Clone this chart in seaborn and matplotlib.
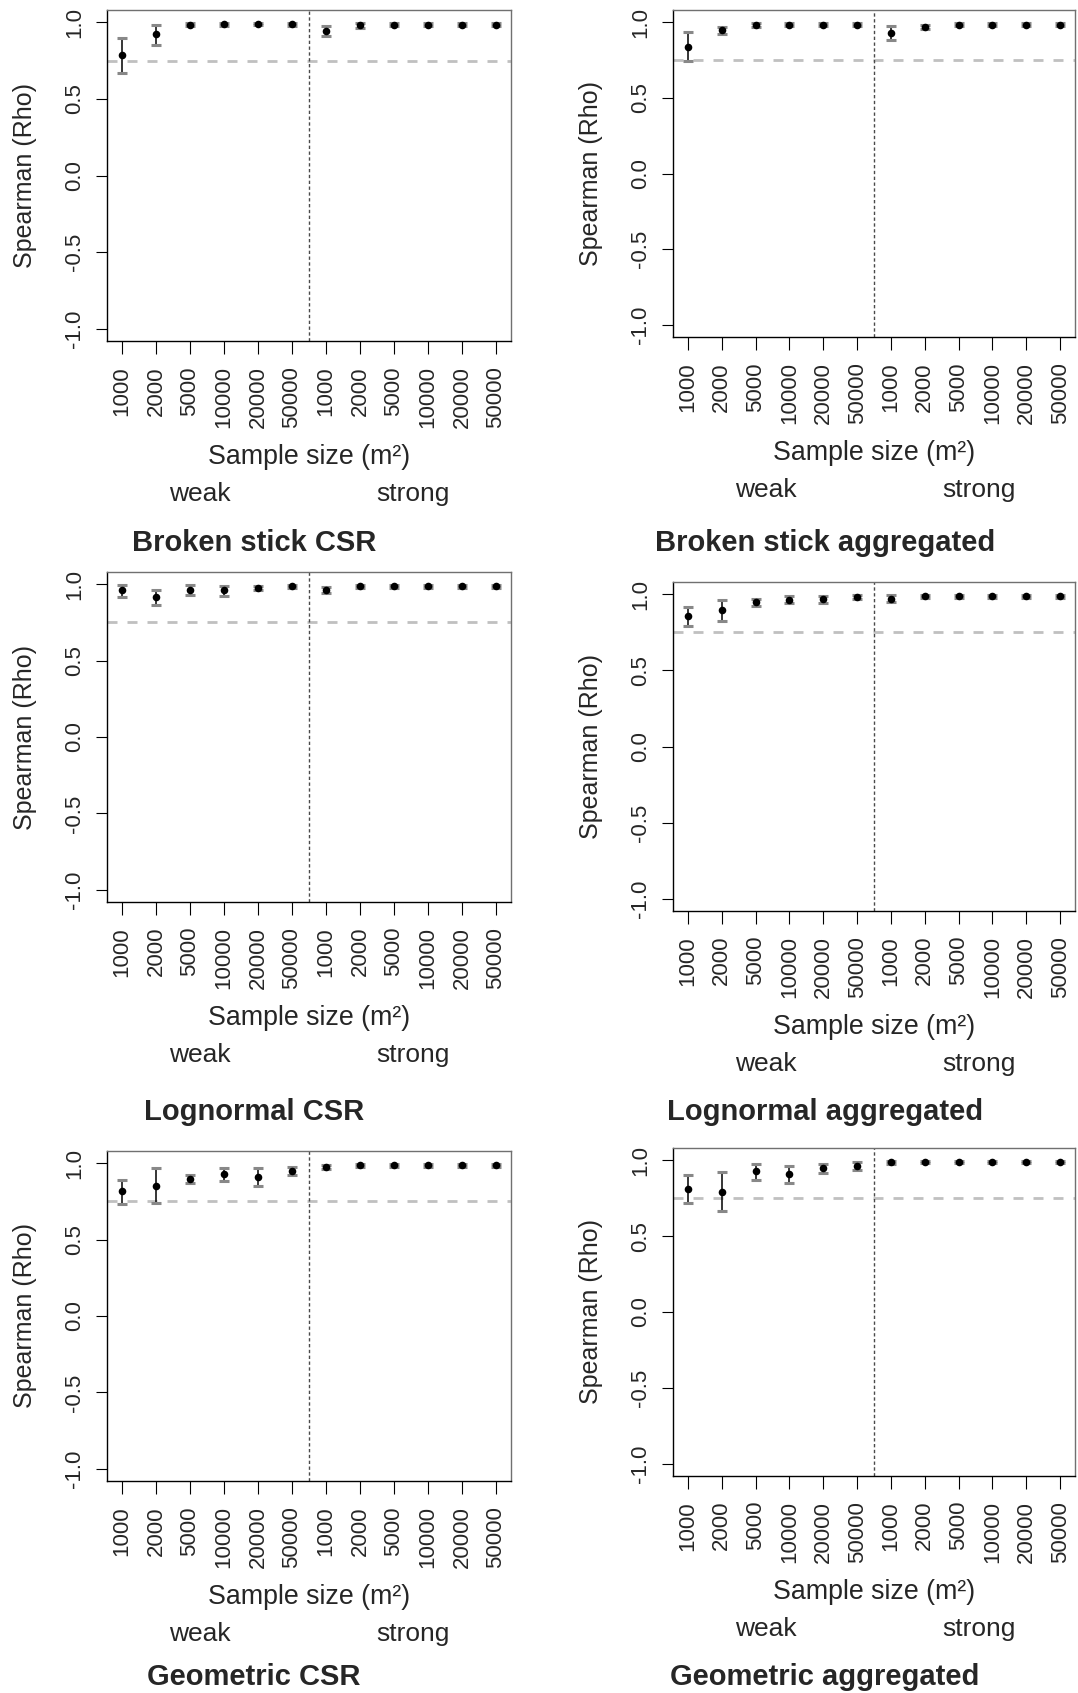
import numpy as np
import pandas as pd
import matplotlib
matplotlib.use("Agg")
import matplotlib.pyplot as plt
import seaborn as sns

# ---- data -------------------------------------------------------------
sizes = ["1000", "2000", "5000", "10000", "20000", "50000"]
strengths = ["weak", "strong"]
y_ticks = [-1.0, -0.5, 0.0, 0.5, 1.0]
y_tick_labels = ["-1.0", "-0.5", "0.0", "0.5", "1.0"]
threshold = 0.75

titles = ["Broken stick CSR", "Broken stick aggregated",
          "Lognormal CSR", "Lognormal aggregated",
          "Geometric CSR", "Geometric aggregated"]

bs_csr_mean = [0.784, 0.921, 0.985, 0.988, 0.989, 0.988, 0.946, 0.980, 0.984, 0.984, 0.985, 0.984]
bs_csr_lo = [0.668, 0.852, 0.976, 0.978, 0.979, 0.978, 0.913, 0.962, 0.974, 0.974, 0.975, 0.974]
bs_csr_hi = [0.898, 0.985, 0.994, 0.996, 0.996, 0.996, 0.978, 0.994, 0.994, 0.994, 0.994, 0.994]

bs_agg_mean = [0.834, 0.945, 0.982, 0.983, 0.983, 0.983, 0.930, 0.969, 0.983, 0.983, 0.983, 0.983]
bs_agg_lo = [0.742, 0.919, 0.970, 0.972, 0.972, 0.972, 0.880, 0.955, 0.974, 0.974, 0.974, 0.974]
bs_agg_hi = [0.934, 0.969, 0.994, 0.994, 0.994, 0.994, 0.976, 0.982, 0.993, 0.993, 0.993, 0.993]

ln_csr_mean = [0.963, 0.919, 0.963, 0.959, 0.976, 0.987, 0.965, 0.987, 0.987, 0.987, 0.987, 0.987]
ln_csr_lo = [0.915, 0.865, 0.932, 0.924, 0.959, 0.975, 0.941, 0.977, 0.977, 0.977, 0.977, 0.977]
ln_csr_hi = [0.998, 0.963, 0.993, 0.991, 0.991, 0.996, 0.985, 0.995, 0.995, 0.995, 0.995, 0.995]

ln_agg_mean = [0.860, 0.893, 0.947, 0.963, 0.971, 0.980, 0.971, 0.985, 0.985, 0.985, 0.985, 0.985]
ln_agg_lo = [0.794, 0.825, 0.923, 0.941, 0.945, 0.967, 0.947, 0.976, 0.976, 0.976, 0.976, 0.976]
ln_agg_hi = [0.919, 0.963, 0.971, 0.985, 0.989, 0.993, 0.993, 0.994, 0.994, 0.994, 0.994, 0.994]

geo_csr_mean = [0.815, 0.853, 0.894, 0.931, 0.912, 0.948, 0.976, 0.987, 0.987, 0.987, 0.987, 0.987]
geo_csr_lo = [0.735, 0.741, 0.869, 0.886, 0.849, 0.920, 0.959, 0.976, 0.976, 0.976, 0.976, 0.976]
geo_csr_hi = [0.888, 0.966, 0.922, 0.972, 0.972, 0.974, 0.991, 0.996, 0.996, 0.996, 0.996, 0.996]

geo_agg_mean = [0.809, 0.793, 0.928, 0.906, 0.948, 0.963, 0.985, 0.989, 0.989, 0.989, 0.989, 0.989]
geo_agg_lo = [0.717, 0.667, 0.872, 0.848, 0.915, 0.933, 0.974, 0.980, 0.980, 0.980, 0.980, 0.980]
geo_agg_hi = [0.902, 0.924, 0.976, 0.959, 0.976, 0.989, 0.996, 0.997, 0.997, 0.997, 0.997, 0.997]

panel_values = [
    (bs_csr_mean, bs_csr_lo, bs_csr_hi),
    (bs_agg_mean, bs_agg_lo, bs_agg_hi),
    (ln_csr_mean, ln_csr_lo, ln_csr_hi),
    (ln_agg_mean, ln_agg_lo, ln_agg_hi),
    (geo_csr_mean, geo_csr_lo, geo_csr_hi),
    (geo_agg_mean, geo_agg_lo, geo_agg_hi),
]

# ---- style ------------------------------------------------------------
sns.set_style("white")
plt.rcParams["font.family"] = ["Liberation Sans", "DejaVu Sans"]
plt.rcParams["axes.unicode_minus"] = False

W, H = 1078, 1693
fig = plt.figure(figsize=(W / 100, H / 100), dpi=100)
fig.patch.set_facecolor("white")

# panel boxes in pixels: left, top, right, bottom
boxes = [(107, 10, 511, 341), (673, 10, 1075, 337),
         (107, 572, 511, 902), (673, 582, 1075, 911),
         (107, 1151, 511, 1481), (673, 1148, 1075, 1476)]
title_baselines = [551, 551, 1120, 1120, 1685, 1685]
title_centers = [254, 825]


def fx(px):
    return px / W


def fy(py):
    return 1 - py / H


tick_labels = sizes + sizes
positions = np.arange(1, len(tick_labels) + 1)

for i, ((mean, lo, hi), (l, t, r, b)) in enumerate(zip(panel_values, boxes)):
    df = pd.DataFrame({"pos": positions, "rho": mean, "lo": lo, "hi": hi})
    ax = fig.add_axes([fx(l), fy(b), (r - l) / W, (b - t) / H])

    ax.axhline(threshold, color="#c0c0c0", lw=2.0, ls=(0, (3.6, 3.6)), zorder=1)
    ax.axvline(6.5, color="#4a4a4a", lw=1.0, ls=(0, (2.4, 1.8)), zorder=1)

    _, caps, _ = ax.errorbar(df["pos"], df["rho"],
                             yerr=[df["rho"] - df["lo"], df["hi"] - df["rho"]],
                             fmt="none", ecolor="black", elinewidth=1.1,
                             capsize=3.6, capthick=2.2, zorder=2)
    for c in caps:
        c.set_markeredgecolor("#888888")
        c.set_color("#888888")

    sns.scatterplot(data=df, x="pos", y="rho", ax=ax, color="black", s=30,
                    linewidth=0, zorder=4, legend=False)

    ax.set_xlim(0.56, 12.44)
    ax.set_ylim(-1.08, 1.08)
    ax.set_xticks(positions)
    ax.set_xticklabels(tick_labels)
    ax.set_yticks(y_ticks)
    ax.set_yticklabels(y_tick_labels)
    ax.set_xlabel("")
    ax.set_ylabel("")
    ax.tick_params(axis="x", length=9, width=0.8, pad=9, labelsize=16,
                   labelrotation=90, color="black", bottom=True)
    ax.tick_params(axis="y", length=8, width=0.8, pad=8, labelsize=16,
                   labelrotation=90, color="black", left=True)
    for lbl in ax.get_yticklabels():
        lbl.set_va("center")

    for side in ["top", "right"]:
        ax.spines[side].set_color("#707070")
        ax.spines[side].set_linewidth(1.0)
    for side in ["left", "bottom"]:
        ax.spines[side].set_color("black")
        ax.spines[side].set_linewidth(1.0)

    cx = (l + r) / 2
    fig.text(fx(l - 82), fy((t + b) / 2), "Spearman (Rho)", rotation=90,
             ha="center", va="center", fontsize=18)
    fig.text(fx(cx), fy(b + 123), "Sample size (m²)", ha="center",
             va="baseline", fontsize=19.3)
    fig.text(fx(l + 92.5), fy(b + 160), strengths[0], ha="center",
             va="baseline", fontsize=19)
    fig.text(fx(l + 305.5), fy(b + 160), strengths[1], ha="center",
             va="baseline", fontsize=19)
    fig.text(fx(title_centers[i % 2]), fy(title_baselines[i]), titles[i],
             ha="center", va="baseline", fontsize=21, fontweight="bold")

fig.savefig("out.png", dpi=100, facecolor="white")
